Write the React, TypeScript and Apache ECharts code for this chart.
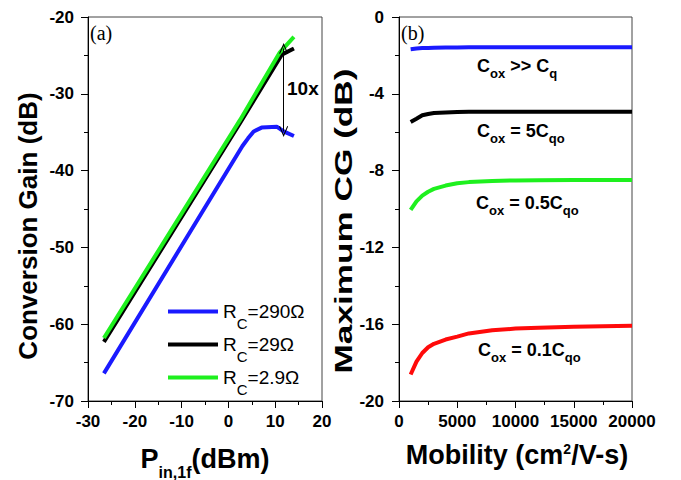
import React, { useEffect, useRef } from 'react';
import * as echarts from 'echarts';

// ---------- data ----------
// Panel (a): conversion gain vs P_in,1f
const pinBlue = [-26.6, 3.0, 4.2, 5.4, 7.1, 10.4, 11.8, 14.0];
const gainBlue = [-66.4, -36.8, -35.8, -34.9, -34.4, -34.3, -34.9, -35.5];
const pinBlack = [-26.6, 2.5, 11.4, 14.0];
const gainBlack = [-62.3, -33.8, -24.9, -24.1];
const pinGreen = [-26.6, 2.5, 11.0, 14.0];
const gainGreen = [-61.8, -33.4, -24.6, -22.6];
const rcLabels = ['290Ω', '29Ω', '2.9Ω'];

// arrow "10x" between the curves
const arrowPin = 11.8;
const arrowTop = -24.1;
const arrowBottom = -34.9;

// Panel (b): maximum CG vs mobility
const mobility = [1000, 1500, 2000, 2500, 3000, 4000, 5000, 6000, 8000, 10000, 12000, 15000, 20000];
const cgInf = [-1.68, -1.64, -1.62, -1.61, -1.6, -1.59, -1.59, -1.58, -1.58, -1.58, -1.58, -1.58, -1.58];
const cg5 = [-5.47, -5.3, -5.12, -5.05, -5.0, -4.97, -4.95, -4.94, -4.93, -4.93, -4.93, -4.93, -4.93];
const cg05 = [-10.05, -9.6, -9.3, -9.1, -8.95, -8.78, -8.66, -8.6, -8.54, -8.51, -8.5, -8.49, -8.49];
const cg01 = [-18.62, -17.95, -17.5, -17.2, -17.02, -16.8, -16.65, -16.48, -16.32, -16.23, -16.18, -16.13, -16.08];

const xTicksA = { min: -30, max: 20, interval: 10 };
const yTicksA = { min: -70, max: -20, interval: 10 };
const xTicksB = { min: 0, max: 20000, interval: 5000 };
const yTicksB = { min: -20, max: 0, interval: 4 };

const F = '"Liberation Sans", Arial, Helvetica, sans-serif';
const SERIF = '"Liberation Serif", "Times New Roman", serif';

const zip = (xs: number[], ys: number[]) => xs.map((x, i) => [x, ys[i]]);

const axisBase = (labelMargin: number) => ({
  type: 'value' as const,
  axisLine: { show: true, onZero: false, lineStyle: { color: '#000', width: 1 } },
  axisTick: { show: true, inside: false, length: 7, lineStyle: { color: '#000', width: 1 } },
  minorTick: { show: true, splitNumber: 2, length: 4, lineStyle: { color: '#000', width: 1 } },
  splitLine: { show: false },
  minorSplitLine: { show: false },
  axisLabel: {
    color: '#000', fontFamily: F, fontWeight: 'bold' as const, fontSize: 17, margin: labelMargin,
    formatter: (v: number) => String(v),
  },
});

const chevron = 'path://M5,0 L10,10 L9,10.6 L5,2.6 L1,10.6 L0,10 Z';

export default function App() {
  const ref = useRef<HTMLDivElement>(null);
  useEffect(() => {
    if (!ref.current) return;
    const chart = echarts.init(ref.current, null, { renderer: 'svg' });
    const names = rcLabels.map((v) => 'RC=' + v);
    const lineSeries = (name: string, data: number[][], color: string, xi: number) => ({
      name,
      type: 'line' as const,
      xAxisIndex: xi,
      yAxisIndex: xi,
      data,
      showSymbol: false,
      symbol: 'none',
      lineStyle: { color, width: 4 },
      itemStyle: { color },
      silent: true,
    });
    const annRich = {
      m: { fontSize: 18, fontWeight: 'bold', fontFamily: F, color: '#000', verticalAlign: 'middle' },
      s: { fontSize: 13, fontWeight: 'bold', fontFamily: F, color: '#000', verticalAlign: 'middle', padding: [14, 0, 0, 0] },
    };
    const ann = (x: number, y: number, text: string) => ({
      type: 'text',
      x,
      y,
      silent: true,
      style: { text, rich: annRich, textAlign: 'left', verticalAlign: 'middle', textVerticalAlign: 'middle' },
    });
    const option: any = {
      animation: false,
      textStyle: { fontFamily: F },
      grid: [
        { left: 88, top: 17, width: 234, height: 384, show: true, borderColor: '#444', borderWidth: 1 },
        { left: 399, top: 17, width: 233, height: 384, show: true, borderColor: '#444', borderWidth: 1 },
      ],
      xAxis: [
        { ...axisBase(12), gridIndex: 0, ...xTicksA },
        { ...axisBase(12), gridIndex: 1, ...xTicksB },
      ],
      yAxis: [
        { ...axisBase(14), gridIndex: 0, ...yTicksA },
        { ...axisBase(15), gridIndex: 1, ...yTicksB },
      ],
      legend: {
        data: names,
        orient: 'vertical',
        left: 163,
        top: 297,
        itemWidth: 50,
        itemHeight: 4,
        icon: 'rect',
        itemGap: 4,
        selectedMode: false,
        formatter: (name: string) => '{r|R}{s|C}{r|=' + name.slice(3) + '}',
        textStyle: {
          rich: {
            r: { fontSize: 19, fontFamily: F, color: '#000', verticalAlign: 'middle' },
            s: { fontSize: 15, fontFamily: F, color: '#000', verticalAlign: 'middle', padding: [24, 0, 0, 0] },
          },
        },
      },
      series: [
        lineSeries(names[0], zip(pinBlue, gainBlue), '#1a1aff', 0),
        {
          ...lineSeries(names[1], zip(pinBlack, gainBlack), '#000000', 0),
          markLine: {
            silent: true,
            symbol: [chevron, chevron],
            symbolSize: [9, 11],
            label: { show: false },
            lineStyle: { color: '#000', width: 1, type: 'solid' },
            data: [[{ coord: [arrowPin, arrowTop] }, { coord: [arrowPin, arrowBottom] }]],
          },
        },
        lineSeries(names[2], zip(pinGreen, gainGreen), '#1ef01e', 0),
        lineSeries('inf', zip(mobility, cgInf), '#1a1aff', 1),
        lineSeries('c5', zip(mobility, cg5), '#000000', 1),
        lineSeries('c05', zip(mobility, cg05), '#1ef01e', 1),
        lineSeries('c01', zip(mobility, cg01), '#ff0a0a', 1),
      ],
      graphic: [
        {
          type: 'text', x: 28, y: 226, rotation: Math.PI / 2, scaleX: 1.0, silent: true,
          style: { text: 'Conversion Gain (dB)', fontSize: 26, fontWeight: 'bold', fontFamily: F, fill: '#000', textAlign: 'center', verticalAlign: 'middle', textVerticalAlign: 'middle' },
        },
        {
          type: 'text', x: 344, y: 221, rotation: Math.PI / 2, scaleX: 1.53, silent: true,
          style: { text: 'Maximum CG (dB)', fontSize: 23, fontWeight: 'bold', fontFamily: F, fill: '#000', textAlign: 'center', verticalAlign: 'middle', textVerticalAlign: 'middle' },
        },
        {
          type: 'text', x: 205, y: 459, silent: true,
          style: {
            text: '{b|P}{s|in,1f}{b|(dBm)}', textAlign: 'center', verticalAlign: 'middle', textVerticalAlign: 'middle',
            rich: {
              b: { fontSize: 27, fontWeight: 'bold', fontFamily: F, color: '#000', verticalAlign: 'middle' },
              s: { fontSize: 16, fontWeight: 'bold', fontFamily: F, color: '#000', verticalAlign: 'middle', padding: [26, 0, 0, 0] },
            },
          },
        },
        {
          type: 'text', x: 517, y: 455, silent: true,
          style: {
            text: '{b|Mobility (cm}{p|2}{b|/V-s)}', textAlign: 'center', verticalAlign: 'middle', textVerticalAlign: 'middle',
            rich: {
              b: { fontSize: 27, fontWeight: 'bold', fontFamily: F, color: '#000', verticalAlign: 'middle' },
              p: { fontSize: 14, fontWeight: 'bold', fontFamily: F, color: '#000', verticalAlign: 'middle', padding: [0, 0, 12, 0] },
            },
          },
        },
        {
          type: 'text', x: 90, y: 33, silent: true,
          style: { text: '(a)', fontSize: 20, fontFamily: SERIF, fill: '#000', verticalAlign: 'middle', textVerticalAlign: 'middle' },
        },
        {
          type: 'text', x: 401, y: 33, silent: true,
          style: { text: '(b)', fontSize: 20, fontFamily: SERIF, fill: '#000', verticalAlign: 'middle', textVerticalAlign: 'middle' },
        },
        {
          type: 'text', x: 287, y: 88, silent: true,
          style: { text: '10x', fontSize: 19, fontWeight: 'bold', fontFamily: F, fill: '#000', verticalAlign: 'middle', textVerticalAlign: 'middle' },
        },
        ann(477, 66, '{m|C}{s|ox}{m| >> C}{s|q}'),
        ann(477, 131, '{m|C}{s|ox}{m| = 5C}{s|qo}'),
        ann(476, 203, '{m|C}{s|ox}{m| = 0.5C}{s|qo}'),
        ann(478, 350, '{m|C}{s|ox}{m| = 0.1C}{s|qo}'),
      ],
    };
    chart.setOption(option);
    return () => chart.dispose();
  }, []);
  return <div ref={ref} style={{ width: 681, height: 480, position: 'absolute', left: 0, top: 0 }} />;
}
